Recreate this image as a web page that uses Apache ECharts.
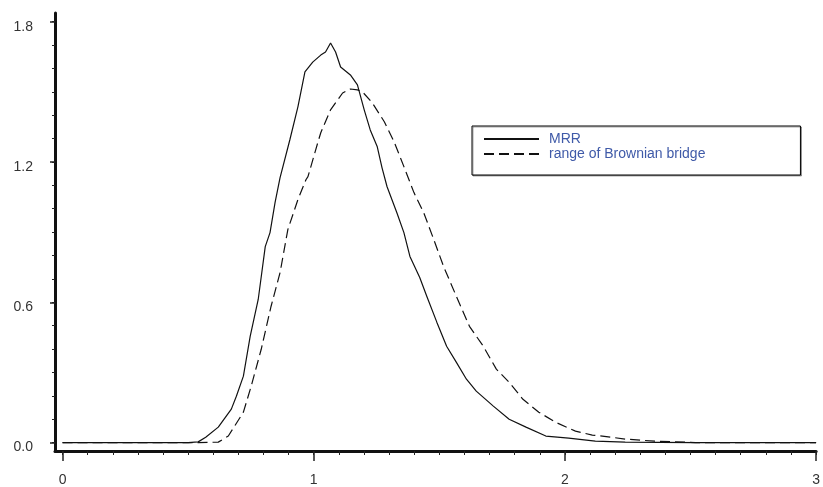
<!DOCTYPE html>
<html>
<head>
<meta charset="utf-8">
<script src="https://cdn.jsdelivr.net/npm/echarts@6/dist/echarts.min.js"></script>
<style>
  html, body { margin: 0; padding: 0; background: #fff; }
  #chart { width: 823px; height: 487px; }
</style>
</head>
<body>
<div id="chart"></div>
<script>
// MRR density (solid)
var mrrX = [0, 0.50, 0.54, 0.57, 0.62, 0.672, 0.692, 0.72, 0.747, 0.779, 0.807, 0.826, 0.846, 0.866,
  0.905, 0.937, 0.965, 0.996, 1.028, 1.047, 1.067, 1.087, 1.107, 1.146, 1.174, 1.201, 1.225, 1.253,
  1.272, 1.292, 1.331, 1.359, 1.383, 1.422, 1.450, 1.490, 1.529, 1.568, 1.608, 1.647, 1.715, 1.778,
  1.845, 1.924, 2.015, 2.121, 2.24, 2.52, 3.0];
var mrrY = [0, 0, 0.003, 0.023, 0.066, 0.143, 0.198, 0.284, 0.454, 0.612, 0.838, 0.898, 1.026, 1.133,
  1.295, 1.436, 1.585, 1.627, 1.657, 1.670, 1.709, 1.670, 1.606, 1.572, 1.530, 1.423, 1.337, 1.265,
  1.175, 1.094, 0.983, 0.898, 0.796, 0.706, 0.626, 0.515, 0.412, 0.343, 0.271, 0.220, 0.156, 0.100,
  0.066, 0.028, 0.019, 0.006, 0.002, 0, 0];

// range of Brownian bridge density (dashed)
var bridgeX = [0, 0.54, 0.62, 0.66, 0.72, 0.751, 0.791, 0.830, 0.866, 0.897, 0.937, 0.969, 0.977,
  1.016, 1.028, 1.067, 1.115, 1.146, 1.174, 1.194, 1.233, 1.281, 1.320, 1.359, 1.399, 1.438, 1.478,
  1.517, 1.568, 1.620, 1.675, 1.727, 1.778, 1.833, 1.896, 1.963, 2.042, 2.109, 2.149, 2.240, 2.358,
  2.52, 3.0];
var bridgeY = [0, 0, 0.002, 0.028, 0.13, 0.241, 0.399, 0.582, 0.727, 0.911, 1.039, 1.124, 1.137,
  1.282, 1.325, 1.423, 1.495, 1.512, 1.508, 1.500, 1.453, 1.372, 1.286, 1.180, 1.069, 0.983, 0.868,
  0.753, 0.625, 0.497, 0.412, 0.314, 0.258, 0.185, 0.130, 0.087, 0.049, 0.032, 0.028, 0.015, 0.006,
  0, 0];

var seriesNames = ['MRR', 'range of Brownian bridge'];
var xTickLabels = [0, 1, 2, 3];
var yTickLabels = [0, 0.6, 1.2, 1.8];

function zip(xs, ys) {
  var out = [];
  for (var i = 0; i < xs.length; i++) out.push([xs[i], ys[i]]);
  return out;
}
// minor ticks every 0.1
function steps(from, to) {
  var out = [];
  for (var i = Math.round(from * 10); i <= Math.round(to * 10); i++) out.push(i / 10);
  return out;
}

var X_MIN = -0.03, X_MAX = 3, Y_MIN = -0.036, Y_MAX = 1.837;
var labelStyle = { color: '#333', fontSize: 14, fontFamily: 'Liberation Sans, Arial, sans-serif' };

var chart = echarts.init(document.getElementById('chart'));
chart.setOption({
  animation: false,
  backgroundColor: '#fff',
  grid: { left: 55, right: 0, top: 13, bottom: 35 },
  legend: {
    left: 472, top: 126,
    orient: 'vertical',
    data: seriesNames,
    itemWidth: 55, itemHeight: 14, itemGap: 1,
    padding: [6, 95, 14, 11],
    borderColor: '#000', borderWidth: 1,
    backgroundColor: '#fff',
    shadowColor: 'rgba(0,0,0,0.35)', shadowOffsetX: 1, shadowOffsetY: 1,
    itemStyle: { opacity: 0 },
    textStyle: { color: '#3f5aa8', fontSize: 14, fontFamily: 'Liberation Sans, Arial, sans-serif', padding: [0, 0, 0, 5] }
  },
  xAxis: [{
    type: 'value', min: X_MIN, max: X_MAX,
    axisLine: { show: true, onZero: false, lineStyle: { color: '#111', width: 3 } },
    axisTick: { show: true, customValues: xTickLabels, length: 10, lineStyle: { color: '#222', width: 1.5 } },
    axisLabel: Object.assign({ customValues: xTickLabels, margin: 22 }, labelStyle),
    splitLine: { show: false }
  }, {
    type: 'value', min: X_MIN, max: X_MAX, position: 'bottom',
    axisLine: { show: false, onZero: false },
    axisTick: { show: true, customValues: steps(0, 3), length: 4, lineStyle: { color: '#222', width: 1 } },
    axisLabel: { show: false },
    splitLine: { show: false }
  }],
  yAxis: [{
    type: 'value', min: Y_MIN, max: Y_MAX,
    axisLine: { show: true, onZero: false, lineStyle: { color: '#111', width: 3 } },
    axisTick: { show: true, customValues: yTickLabels, length: 5, lineStyle: { color: '#222', width: 1.5 } },
    axisLabel: Object.assign({
      customValues: yTickLabels, margin: 22, verticalAlign: 'top', lineHeight: 10,
      formatter: function (v) { return v.toFixed(1); }
    }, labelStyle),
    splitLine: { show: false }
  }, {
    type: 'value', min: Y_MIN, max: Y_MAX, position: 'left',
    axisLine: { show: false, onZero: false },
    axisTick: { show: true, customValues: steps(0, 1.8), length: 3, lineStyle: { color: '#222', width: 1 } },
    axisLabel: { show: false },
    splitLine: { show: false }
  }],
  series: [{
    name: seriesNames[0], type: 'line', symbol: 'none', z: 3,
    xAxisIndex: 0, yAxisIndex: 0,
    lineStyle: { color: '#111', width: 1.2, type: 'solid' },
    itemStyle: { color: '#111' },
    data: zip(mrrX, mrrY)
  }, {
    name: seriesNames[1], type: 'line', symbol: 'none', z: 2,
    xAxisIndex: 0, yAxisIndex: 0,
    lineStyle: { color: '#111', width: 1.2, type: [10, 5] },
    itemStyle: { color: '#111' },
    data: zip(bridgeX, bridgeY)
  }]
});
</script>
</body>
</html>
